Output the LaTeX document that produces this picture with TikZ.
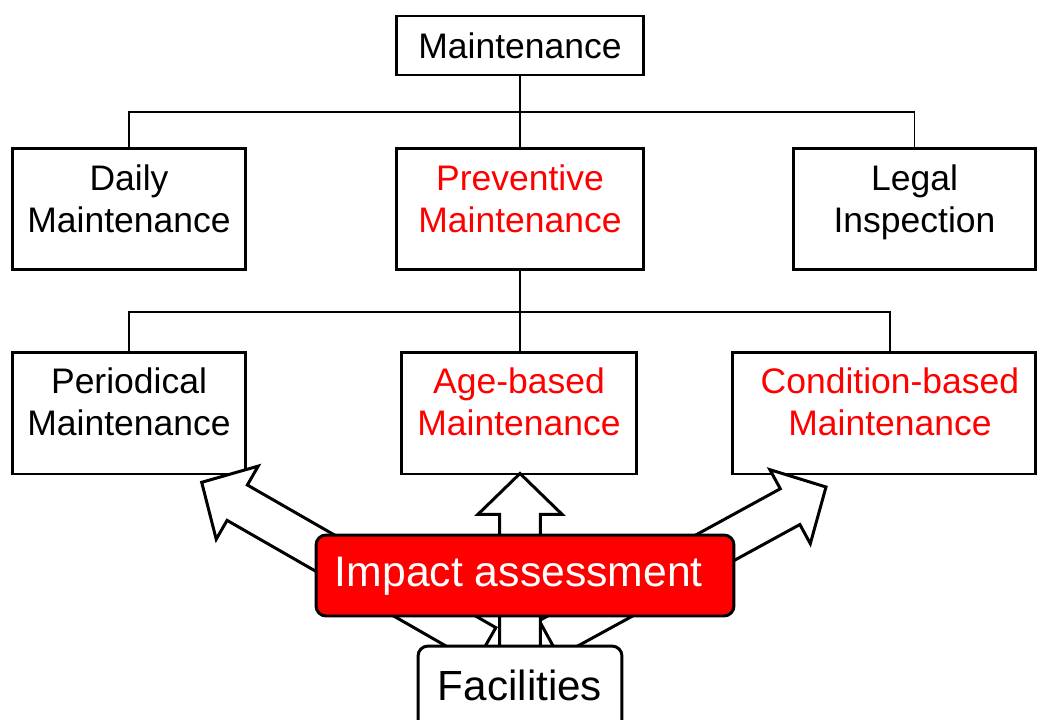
\documentclass[tikz,border=0pt]{standalone}
\usepackage{fontspec}
\setmainfont{Liberation Sans}
\usetikzlibrary{calc}
\newcommand{\blockarr}[3]{%
  \coordinate (#3h) at ($(#2)!23.3pt!(#1)$);
  \draw[barrow] ($(#1)!11.6pt!90:(#2)$) -- ($(#3h)!11.6pt!90:(#2)$) -- ($(#3h)!24pt!90:(#2)$) -- (#2)
    -- ($(#3h)!24pt!-90:(#2)$) -- ($(#3h)!11.6pt!-90:(#2)$) -- ($(#1)!11.6pt!-90:(#2)$) -- cycle;}
\begin{document}
\begin{tikzpicture}[x=0.02cm,y=-0.02cm,
  box/.style={draw, line width=1.7pt, inner sep=0pt, fill=white},
  lbl/.style={align=center, font=\fontsize{20.2pt}{23.8pt}\selectfont, inner sep=0pt},
  conn/.style={line width=0.65pt},
  barrow/.style={draw, fill=white, line width=1.7pt, line join=miter}]
\useasboundingbox (0,0) rectangle (1038,720);
\clip (0,0) rectangle (1038,720);
% boxes
\node[box, minimum width=4.94cm, minimum height=1.18cm, font=\fontsize{20.2pt}{23.8pt}\selectfont] (top) at (520,45.5) {Maintenance};
\node[box, minimum width=4.68cm, minimum height=2.44cm, label={[lbl, yshift=5.7pt]center:Daily\\Maintenance}] (daily) at (129,209) {};
\node[box, minimum width=4.94cm, minimum height=2.44cm, label={[lbl, text=red, yshift=5.7pt]center:Preventive\\Maintenance}] (prev) at (520,209) {};
\node[box, minimum width=4.86cm, minimum height=2.44cm, label={[lbl, yshift=3.8pt]center:Legal\\Inspection}] (legal) at (914.5,209) {};
\node[box, minimum width=4.68cm, minimum height=2.44cm, label={[lbl, yshift=6.2pt]center:Periodical\\Maintenance}] (per) at (129,413) {};
\node[box, minimum width=4.72cm, minimum height=2.44cm, label={[lbl, text=red, yshift=6.2pt]center:Age-based\\Maintenance}] (age) at (519,413) {};
\node[box, minimum width=6.08cm, minimum height=2.44cm, label={[lbl, text=red, yshift=6.2pt, xshift=3.4pt]center:Condition-based\\Maintenance}] (cond) at (884,413) {};
% connectors
\coordinate (b1) at (520,112);
\coordinate (b2) at (520,312);
\coordinate (condtop) at (890,352);
\draw[conn] (top.south) -- (b1);
\draw[conn] (daily.north) |- (b1) -| (legal.north);
\draw[conn] (b1) -- (prev.north);
\draw[conn] (prev.south) -- (b2);
\draw[conn] (per.north) |- (b2) -| (condtop);
\draw[conn] (b2) -- (b2 |- age.north);
% block arrows
\coordinate (Lt) at (485.7,645.3);
\coordinate (Lp) at (201.7,482.3);
\coordinate (Rt) at (549,638.5);
\coordinate (Rp) at (826,487);
\coordinate (Ut) at (520,705);
\coordinate (Up) at (520,473.5);
\blockarr{Lt}{Lp}{L}
\blockarr{Rt}{Rp}{R}
\blockarr{Ut}{Up}{U}
% impact and facilities
\node[box, rounded corners=5.7pt, fill=red, minimum width=8.36cm, minimum height=1.62cm, label={[inner sep=0pt, text=white, xshift=-3.5pt, yshift=-0.6pt, font=\fontsize{24.3pt}{28pt}\selectfont]center:Impact assessment}] (impact) at (525,575.5) {};
\node[box, rounded corners=5.7pt, minimum width=4.08cm, minimum height=2.8cm, label={[inner sep=0pt, yshift=17.6pt, font=\fontsize{24pt}{28pt}\selectfont]center:Facilities}] (fac) at (520,716) {};
\end{tikzpicture}
\end{document}
